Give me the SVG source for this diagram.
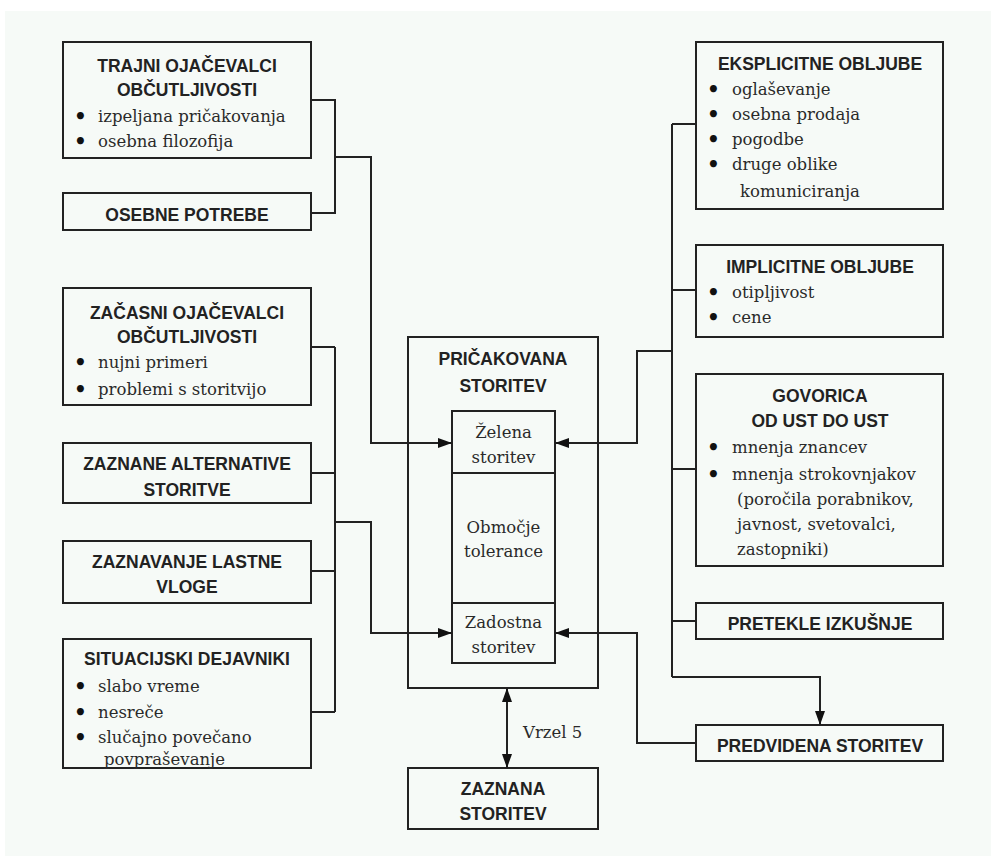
<svg xmlns="http://www.w3.org/2000/svg" width="991" height="856" viewBox="0 0 991 856">
<defs>
<style>
.box{fill:#f6faf7;stroke:#222;stroke-width:2}
.ln{fill:none;stroke:#222;stroke-width:2}
.t{font-family:"Liberation Sans",Arial,sans-serif;font-weight:bold;font-size:17.5px;fill:#222;text-anchor:middle}
.b{font-family:"DejaVu Serif","Liberation Serif",serif;font-size:16.5px;fill:#2a2a2a}
.d{font-family:"DejaVu Serif","Liberation Serif",serif;font-size:20px;font-weight:bold;fill:#111}
.c{font-family:"DejaVu Serif","Liberation Serif",serif;font-size:16.5px;fill:#2a2a2a;text-anchor:middle}
</style>
<marker id="ah" viewBox="0 0 14 10" refX="14" refY="5" markerWidth="14" markerHeight="10" markerUnits="userSpaceOnUse" orient="auto-start-reverse">
<path d="M0,0 L14,5 L0,10 z" fill="#111"/>
</marker>
</defs>
<rect x="0" y="0" width="991" height="856" fill="#ffffff"/>
<rect x="5" y="11" width="986" height="845" fill="#f6faf7"/>

<g id="trajni">
<rect class="box" x="63" y="42" width="248" height="116"/>
<text class="t" x="187" y="72">TRAJNI OJAČEVALCI</text>
<text class="t" x="187" y="96">OBČUTLJIVOSTI</text>
<text class="d" x="74" y="123">•</text><text class="b" x="98" y="122">izpeljana pričakovanja</text>
<text class="d" x="74" y="148">•</text><text class="b" x="98" y="147">osebna filozofija</text>
</g>

<g id="osebne-potrebe">
<rect class="box" x="63" y="193" width="248" height="37"/>
<text class="t" x="187" y="221">OSEBNE POTREBE</text>
</g>

<g id="zacasni">
<rect class="box" x="63" y="288" width="248" height="117"/>
<text class="t" x="187" y="319">ZAČASNI OJAČEVALCI</text>
<text class="t" x="187" y="343">OBČUTLJIVOSTI</text>
<text class="d" x="74" y="369">•</text><text class="b" x="98" y="368">nujni primeri</text>
<text class="d" x="74" y="396">•</text><text class="b" x="98" y="395">problemi s storitvijo</text>
</g>

<g id="zaznane-alternative">
<rect class="box" x="63" y="443" width="248" height="60"/>
<text class="t" x="187" y="470">ZAZNANE ALTERNATIVE</text>
<text class="t" x="187" y="496">STORITVE</text>
</g>

<g id="zaznavanje-vloge">
<rect class="box" x="63" y="541" width="248" height="62"/>
<text class="t" x="187" y="568">ZAZNAVANJE LASTNE</text>
<text class="t" x="187" y="593">VLOGE</text>
</g>

<g id="situacijski">
<rect class="box" x="63" y="639" width="248" height="129"/>
<text class="t" x="187" y="665">SITUACIJSKI DEJAVNIKI</text>
<text class="d" x="74" y="693">•</text><text class="b" x="98" y="692">slabo vreme</text>
<text class="d" x="74" y="719">•</text><text class="b" x="98" y="718">nesreče</text>
<text class="d" x="74" y="744">•</text><text class="b" x="98" y="743">slučajno povečano</text>
<text class="b" x="104" y="765">povpraševanje</text>
</g>

<g id="pricakovana">
<rect class="box" x="408" y="337" width="190" height="351"/>
<text class="t" x="503" y="365">PRIČAKOVANA</text>
<text class="t" x="503" y="392">STORITEV</text>
</g>

<g id="zelena">
<rect class="box" x="452" y="411" width="103" height="62"/>
<text class="c" x="503.5" y="438">Želena</text>
<text class="c" x="503.5" y="463">storitev</text>
</g>

<g id="tolerance">
<rect class="box" x="452" y="473" width="103" height="130"/>
<text class="c" x="503.5" y="533">Območje</text>
<text class="c" x="503.5" y="557">tolerance</text>
</g>

<g id="zadostna">
<rect class="box" x="452" y="603" width="103" height="60"/>
<text class="c" x="503.5" y="628">Zadostna</text>
<text class="c" x="503.5" y="653">storitev</text>
</g>

<g id="zaznana">
<rect class="box" x="408" y="768" width="190" height="61"/>
<text class="t" x="503" y="795">ZAZNANA</text>
<text class="t" x="503" y="820">STORITEV</text>
</g>

<g id="eksplicitne">
<rect class="box" x="696" y="42" width="247" height="167"/>
<text class="t" x="820" y="70">EKSPLICITNE OBLJUBE</text>
<text class="d" x="707" y="96">•</text><text class="b" x="732" y="95">oglaševanje</text>
<text class="d" x="707" y="121">•</text><text class="b" x="732" y="120">osebna prodaja</text>
<text class="d" x="707" y="146">•</text><text class="b" x="732" y="145">pogodbe</text>
<text class="d" x="707" y="171">•</text><text class="b" x="732" y="170">druge oblike</text>
<text class="b" x="740" y="197">komuniciranja</text>
</g>

<g id="implicitne">
<rect class="box" x="696" y="245" width="247" height="92"/>
<text class="t" x="820" y="273">IMPLICITNE OBLJUBE</text>
<text class="d" x="707" y="299">•</text><text class="b" x="732" y="298">otipljivost</text>
<text class="d" x="707" y="324">•</text><text class="b" x="732" y="323">cene</text>
</g>

<g id="govorica">
<rect class="box" x="696" y="374" width="247" height="192"/>
<text class="t" x="820" y="402">GOVORICA</text>
<text class="t" x="820" y="427">OD UST DO UST</text>
<text class="d" x="707" y="454">•</text><text class="b" x="732" y="453">mnenja znancev</text>
<text class="d" x="707" y="481">•</text><text class="b" x="732" y="480">mnenja strokovnjakov</text>
<text class="b" x="737" y="505">(poročila porabnikov,</text>
<text class="b" x="737" y="530">javnost, svetovalci,</text>
<text class="b" x="737" y="555">zastopniki)</text>
</g>

<g id="pretekle">
<rect class="box" x="696" y="603" width="247" height="36"/>
<text class="t" x="820" y="630">PRETEKLE IZKUŠNJE</text>
</g>

<g id="predvidena">
<rect class="box" x="696" y="725" width="247" height="36"/>
<text class="t" x="820" y="752">PREDVIDENA STORITEV</text>
</g>

<g id="connectors">
<path class="ln" d="M311,100 H335 V213 H311"/>
<path class="ln" d="M335,157 H371 V443 H452" marker-end="url(#ah)"/>
<path class="ln" d="M335,347 V712"/>
<path class="ln" d="M311,347 H335 M311,473 H335 M311,571 H335 M311,712 H335"/>
<path class="ln" d="M335,522 H371 V633 H452" marker-end="url(#ah)"/>
<path class="ln" d="M672,124 V677"/>
<path class="ln" d="M696,124 H672 M696,290 H672 M696,469 H672 M696,621 H672"/>
<path class="ln" d="M672,351 H637 V443 H555" marker-end="url(#ah)"/>
<path class="ln" d="M672,677 H820 V725" marker-end="url(#ah)"/>
<path class="ln" d="M696,743 H637 V633 H555" marker-end="url(#ah)"/>
<path class="ln" d="M507,688 V768" marker-start="url(#ah)" marker-end="url(#ah)"/>
<text class="b" x="523" y="738">Vrzel 5</text>
</g>
</svg>
